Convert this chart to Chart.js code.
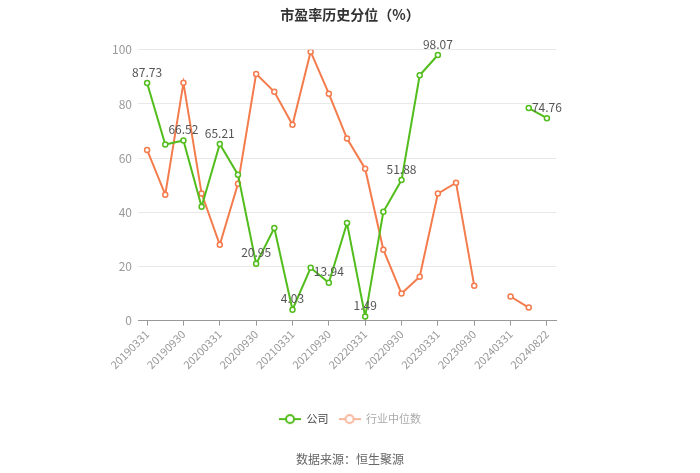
<!DOCTYPE html>
<html><head><meta charset="utf-8">
<script src="https://cdn.jsdelivr.net/npm/chart.js@4.4.1/dist/chart.umd.min.js"></script>
<style>html,body{margin:0;padding:0;background:#fff}#wrap{width:700px;height:473px}</style>
</head><body><div id="wrap"><canvas id="c" width="700" height="473"></canvas></div>
<script>
const categories = ['20190331','20190630','20190930','20191231','20200331','20200630','20200930','20201231','20210331','20210630','20210930','20211231','20220331','20220630','20220930','20221231','20230331','20230630','20230930','20231231','20240331','20240630','20240822'];
const companyValues = [87.73,65.0,66.52,42.0,65.21,53.9,20.95,34.2,4.03,19.5,13.94,36.0,1.49,40.2,51.88,90.6,98.07,null,null,null,null,78.5,74.76];
const industryValues = [63.0,46.5,87.8,46.9,28.0,50.5,91.1,84.5,72.3,99.3,83.8,67.2,56.1,26.2,10.0,16.2,46.9,50.9,12.9,null,8.9,4.8,null];
const yTicks = [0,20,40,60,80,100];
const seriesNames = ['公司','行业中位数'];
const GREEN = '#52bd1c', ORANGE = '#f47b4c';
const FONT = "'Noto Sans CJK SC','Noto Sans',sans-serif";

function legendIcon(color){
  const cv = document.createElement('canvas'); cv.width = 22; cv.height = 12;
  const g = cv.getContext('2d');
  g.strokeStyle = color; g.lineWidth = 2;
  g.beginPath(); g.moveTo(0,6); g.lineTo(22,6); g.stroke();
  g.beginPath(); g.arc(11,6,4,0,Math.PI*2); g.fillStyle='#fff'; g.fill(); g.stroke();
  return cv;
}
const labelPlugin = {
  id:'vlabels',
  afterDatasetsDraw(chart){
    const ctx = chart.ctx, meta = chart.getDatasetMeta(0);
    ctx.save(); ctx.font = '12px '+FONT; ctx.fillStyle = '#555'; ctx.textAlign='center'; ctx.textBaseline='bottom';
    companyValues.forEach((v,i)=>{
      if(v===null || i%2!==0) return;
      const p = meta.data[i];
      ctx.fillText(v.toFixed(2), p.x, p.y-5);
    });
    ctx.restore();
  }
};
new Chart(document.getElementById('c'),{
  type:'line',
  data:{labels:categories,datasets:[
    {label:seriesNames[0],data:companyValues,borderColor:GREEN,backgroundColor:'#fff',borderWidth:2,pointRadius:2.5,pointBorderWidth:1.5,pointBackgroundColor:'#fff',pointBorderColor:GREEN,spanGaps:false,tension:0},
    {label:seriesNames[1],data:industryValues,borderColor:ORANGE,backgroundColor:'#fff',borderWidth:2,pointRadius:2.5,pointBorderWidth:1.5,pointBackgroundColor:'#fff',pointBorderColor:ORANGE,spanGaps:false,tension:0}
  ]},
  options:{
    responsive:false,animation:false,
    layout:{padding:{left:0,right:0,top:4,bottom:6}},
    scales:{
      x:{offset:true,
        grid:{display:true,drawOnChartArea:false,color:'#999',tickLength:5,offset:false},
        border:{display:true,color:'#999'},
        ticks:{autoSkip:false,maxRotation:45,minRotation:45,color:'#999',font:{size:11,family:FONT},padding:2,
          callback:function(v,i){return i%2===0?categories[i]:null;}},
        afterFit:function(s){s.height=83;}
      },
      y:{min:0,max:100,
        afterBuildTicks:function(s){s.ticks=yTicks.map(v=>({value:v}));},
        grid:{color:'#e8e8e8',drawTicks:false},border:{display:false},
        ticks:{color:'#999',font:{size:12,family:FONT},padding:6},
        afterFit:function(s){s.width=138;}
      },
      yr:{type:'linear',position:'right',min:0,max:100,display:true,
        grid:{display:false,drawTicks:false},border:{display:false},ticks:{display:false},
        afterFit:function(s){s.width=144;}
      }
    },
    plugins:{
      title:{display:true,text:'市盈率历史分位（%）',color:'#333',font:{size:14,weight:'bold',family:FONT},padding:{top:2,bottom:27}},
      subtitle:{display:true,position:'bottom',text:'数据来源：恒生聚源',color:'#666',font:{size:12,family:FONT},padding:{top:18,bottom:0}},
      legend:{position:'bottom',labels:{usePointStyle:true,pointStyleWidth:22,boxHeight:12,font:{size:11,family:FONT},padding:10,
        generateLabels:function(chart){
          return chart.data.datasets.map((d,i)=>({text:d.label,datasetIndex:i,pointStyle:legendIcon(i===0?GREEN:'#f7b79c'),fontColor:i===0?'#444':'#aaa',lineWidth:0,strokeStyle:'transparent',fillStyle:'transparent'}));
        }}},
      tooltip:{enabled:false}
    }
  },
  plugins:[labelPlugin]
});
</script></body></html>
